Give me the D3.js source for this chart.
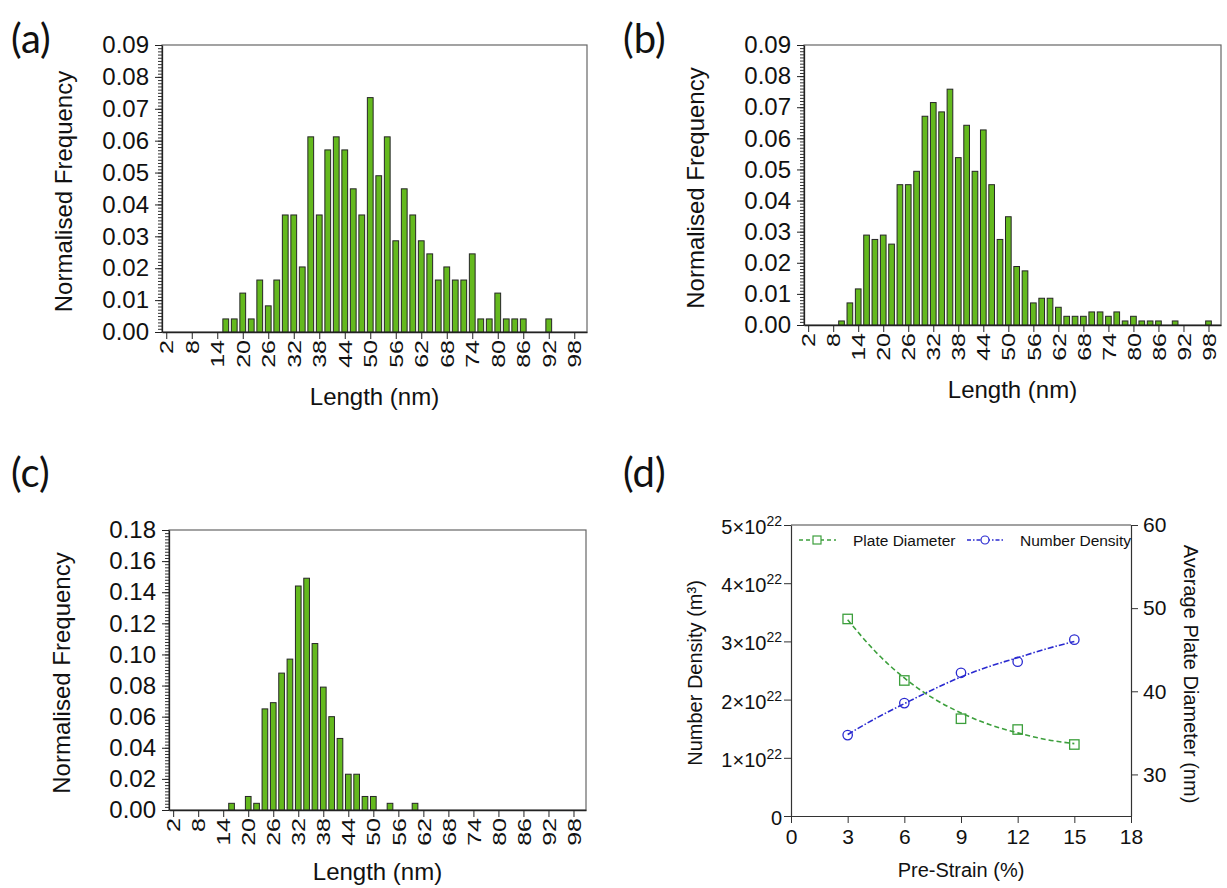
<!DOCTYPE html>
<html>
<head>
<meta charset="utf-8">
<script src="https://cdn.jsdelivr.net/npm/d3@7"></script>
<style>
  body { margin: 0; background: #fff; }
  text { font-family: "Liberation Sans", Arial, sans-serif; fill: #111; }
</style>
</head>
<body>
<script>
// histogram bins (nm) and normalised frequencies
const lenA = [16,18,20,22,24,26,28,30,32,34,36,38,40,42,44,46,48,50,52,54,56,58,60,62,64,66,68,70,72,74,76,78,80,82,84,86,88,90,92];
const freqA = [0.0041,0.0041,0.0122,0.0041,0.0163,0.0082,0.0163,0.0367,0.0367,0.0204,0.0612,0.0367,0.0571,0.0612,0.0571,0.0449,0.0367,0.0735,0.049,0.0612,0.0286,0.0449,0.0367,0.0286,0.0245,0.0163,0.0204,0.0163,0.0163,0.0245,0.0041,0.0041,0.0122,0.0041,0.0041,0.0041,0,0,0.0041];

const lenB = [10,12,14,16,18,20,22,24,26,28,30,32,34,36,38,40,42,44,46,48,50,52,54,56,58,60,62,64,66,68,70,72,74,76,78,80,82,84,86,88,90,92,94,96,98];
const freqB = [0.0013,0.0071,0.0116,0.0289,0.0275,0.0289,0.026,0.0451,0.0451,0.0494,0.0671,0.0715,0.0685,0.0758,0.0538,0.0642,0.0494,0.0627,0.0451,0.0275,0.0348,0.0188,0.0174,0.0071,0.0086,0.0086,0.0057,0.0028,0.0028,0.0028,0.0042,0.0042,0.0028,0.0042,0.0013,0.0028,0.0013,0.0013,0.0013,0,0.0013,0,0,0,0.0013];

const lenC = [16,18,20,22,24,26,28,30,32,34,36,38,40,42,44,46,48,50,52,54,56,58,60];
const freqC = [0.0043,0,0.0087,0.0043,0.065,0.069,0.088,0.097,0.144,0.149,0.107,0.079,0.060,0.046,0.023,0.023,0.0087,0.0087,0,0.0043,0,0,0.0043];

const lengthTicks = [2,8,14,20,26,32,38,44,50,56,62,68,74,80,86,92,98];

// panel (d)
const strain = [3,6,9,12,15];
const numberDensity = [1.39e22,1.94e22,2.46e22,2.65e22,3.03e22];
const plateDiameter = [48.7,41.3,36.7,35.4,33.6];
const fitStrain = [3,4.5,6,7.5,9,10.5,12,13.5,15];
const fitDensity = [1.40e22,1.68e22,1.93e22,2.17e22,2.39e22,2.57e22,2.72e22,2.87e22,3.00e22];
const fitDiameter = [48.6,44.7,41.6,39.2,37.4,36.0,35.0,34.2,33.7];
const strainTicks = [0,3,6,9,12,15,18];
const densityTicks = [0,1e22,2e22,3e22,4e22,5e22];
const diameterTicks = [30,40,50,60];

const W = 1227, H = 888;
const svg = d3.select("body").append("svg").attr("width", W).attr("height", H);

const barFill = "#64b91e";

function histogram(o) {
  const g = svg.append("g");
  const x = d3.scaleLinear().domain([1, 101]).range([o.left, o.right]);
  const y = d3.scaleLinear().domain([0, o.yMax]).range([o.bottom, o.top]);
  const bw = (x(2) - x(0)) * 0.68;

  g.append("rect")
    .attr("x", o.left).attr("y", o.top)
    .attr("width", o.right - o.left).attr("height", o.bottom - o.top)
    .attr("fill", "none").attr("stroke", "#666").attr("stroke-width", 1.2);

  g.selectAll("rect.bar")
    .data(o.len.map((d, i) => ({len: d, f: o.freq[i]})).filter(d => d.f > 0))
    .enter().append("rect")
    .attr("class", "bar")
    .attr("x", d => x(d.len) - bw / 2)
    .attr("y", d => y(d.f))
    .attr("width", bw)
    .attr("height", d => y(0) - y(d.f))
    .attr("fill", barFill)
    .attr("stroke", "#262626")
    .attr("stroke-width", 1);

  // minor y ticks
  g.append("g")
    .attr("transform", `translate(${o.left},0)`)
    .call(d3.axisLeft(y).tickValues(d3.range(0, o.yMax + 1e-9, o.yMax / 90)).tickSize(4).tickFormat(""))
    .call(a => a.select(".domain").remove())
    .selectAll("line").attr("stroke", "#333");

  const ya = g.append("g")
    .attr("transform", `translate(${o.left},0)`)
    .call(d3.axisLeft(y).tickValues(o.yTicks).tickSize(7).tickSizeOuter(0).tickPadding(6).tickFormat(d3.format(".2f")));
  ya.select(".domain").attr("stroke", "#222").attr("stroke-width", 1.3);
  ya.selectAll("line").attr("stroke", "#222");
  ya.selectAll("text").attr("font-size", 24).attr("font-family", "Liberation Sans, Arial, sans-serif").attr("fill", "#111");

  const xa = g.append("g")
    .attr("transform", `translate(0,${o.bottom})`)
    .call(d3.axisBottom(x).tickValues(lengthTicks).tickSize(7).tickSizeOuter(0));
  xa.select(".domain").attr("stroke", "#222").attr("stroke-width", 1.3);
  xa.selectAll("line").attr("stroke", "#222");
  xa.selectAll("text")
    .attr("font-size", 25).attr("font-family", "Liberation Sans, Arial, sans-serif").attr("fill", "#111")
    .attr("text-anchor", "end")
    .attr("transform", "rotate(-90) scale(1,0.74)")
    .attr("x", -8).attr("y", 0).attr("dy", "0.36em");

  g.append("text")
    .attr("transform", `translate(${o.yTitleX},${(o.top + o.bottom) / 2 + 3}) rotate(-90)`)
    .attr("text-anchor", "middle").attr("font-size", 24)
    .text("Normalised Frequency");

  g.append("text")
    .attr("x", (o.left + o.right) / 2).attr("y", o.xTitleY)
    .attr("text-anchor", "middle").attr("font-size", 24)
    .text("Length (nm)");
}

histogram({len: lenA, freq: freqA, left: 162, right: 587, top: 45, bottom: 332,
  yMax: 0.09, yTicks: d3.range(0, 0.0901, 0.01), yTitleX: 72, xTitleY: 405});
histogram({len: lenB, freq: freqB, left: 804, right: 1221, top: 45, bottom: 325,
  yMax: 0.09, yTicks: d3.range(0, 0.0901, 0.01), yTitleX: 704, xTitleY: 398});
histogram({len: lenC, freq: freqC, left: 169, right: 586, top: 530, bottom: 810,
  yMax: 0.18, yTicks: d3.range(0, 0.1801, 0.02), yTitleX: 70, xTitleY: 880});

// panel letters
const letters = [["(a)", 11, 53], ["(b)", 623, 53], ["(c)", 11, 487], ["(d)", 623, 487]];
svg.selectAll("text.letter").data(letters).enter().append("text")
  .attr("class", "letter")
  .attr("x", d => d[1]).attr("y", d => d[2])
  .attr("font-size", 40)
  .style("font-family", "Lato, 'Open Sans', sans-serif")
  .text(d => d[0]);

// ---- panel (d)
const green = "#3c9f3c", blue = "#2a2ad0";
const dL = 791, dR = 1131, dT = 525, dB = 816;
const xs = d3.scaleLinear().domain([0, 18]).range([dL, dR]);
const yl = d3.scaleLinear().domain([0, 5e22]).range([dB, dT]);
const yr = d3.scaleLinear().domain([25, 60]).range([dB, dT]);
const gd = svg.append("g");

gd.append("line").attr("x1", dL).attr("x2", dR).attr("y1", dT).attr("y2", dT)
  .attr("stroke", "#444").attr("stroke-width", 1.2);

const xax = gd.append("g").attr("transform", `translate(0,${dB})`)
  .call(d3.axisBottom(xs).tickValues(strainTicks).tickSize(7).tickSizeOuter(0).tickPadding(6));
const ylax = gd.append("g").attr("transform", `translate(${dL},0)`)
  .call(d3.axisLeft(yl).tickValues(densityTicks).tickSize(7).tickSizeOuter(0).tickFormat(""));
const yrax = gd.append("g").attr("transform", `translate(${dR},0)`)
  .call(d3.axisRight(yr).tickValues(diameterTicks).tickSize(7).tickSizeOuter(0).tickPadding(5));
[xax, ylax, yrax].forEach(a => {
  a.select(".domain").attr("stroke", "#333").attr("stroke-width", 1.2);
  a.selectAll("line").attr("stroke", "#333");
  a.selectAll("text").attr("font-size", 21).attr("font-family", "Liberation Sans, Arial, sans-serif").attr("fill", "#111");
});

// left labels with superscript exponent
ylax.selectAll(".tick").each(function(d) {
  const t = d3.select(this).append("text")
    .attr("x", -9).attr("dy", "0.42em").attr("text-anchor", "end")
    .attr("font-size", 20).attr("fill", "#111");
  if (d === 0) { t.text("0"); return; }
  t.append("tspan").text((d / 1e22) + "×10");
  t.append("tspan").attr("dy", -8).attr("font-size", 14).text("22");
});

gd.append("text")
  .attr("transform", `translate(${xs(9)},877)`)
  .attr("text-anchor", "middle").attr("font-size", 20)
  .text("Pre-Strain (%)");
gd.append("text")
  .attr("transform", `translate(702,673) rotate(-90)`)
  .attr("text-anchor", "middle").attr("font-size", 20)
  .text("Number Density (m³)");
gd.append("text")
  .attr("transform", `translate(1184,674) rotate(90)`)
  .attr("text-anchor", "middle").attr("font-size", 20)
  .text("Average Plate Diameter (nm)");

// fitted curves
gd.append("path")
  .datum(fitStrain.map((s, i) => [s, fitDiameter[i]]))
  .attr("d", d3.line().x(d => xs(d[0])).y(d => yr(d[1])).curve(d3.curveMonotoneX))
  .attr("fill", "none").attr("stroke", green).attr("stroke-width", 1.6)
  .attr("stroke-dasharray", "5,3");
gd.append("path")
  .datum(fitStrain.map((s, i) => [s, fitDensity[i]]))
  .attr("d", d3.line().x(d => xs(d[0])).y(d => yl(d[1])).curve(d3.curveMonotoneX))
  .attr("fill", "none").attr("stroke", blue).attr("stroke-width", 1.6)
  .attr("stroke-dasharray", "6,2,1.5,2");

// markers
gd.selectAll("rect.pd").data(strain).enter().append("rect")
  .attr("class", "pd")
  .attr("x", (d, i) => xs(d) - 4.7).attr("y", (d, i) => yr(plateDiameter[i]) - 4.7)
  .attr("width", 9.4).attr("height", 9.4)
  .attr("fill", "none").attr("stroke", green).attr("stroke-width", 1.3);
gd.selectAll("circle.nd").data(strain).enter().append("circle")
  .attr("class", "nd")
  .attr("cx", d => xs(d)).attr("cy", (d, i) => yl(numberDensity[i]))
  .attr("r", 4.7)
  .attr("fill", "none").attr("stroke", blue).attr("stroke-width", 1.3);

// legend
const lg = gd.append("g");
lg.append("line").attr("x1", 799).attr("x2", 836).attr("y1", 540).attr("y2", 540)
  .attr("stroke", green).attr("stroke-width", 1.5).attr("stroke-dasharray", "4,3");
lg.append("rect").attr("x", 813).attr("y", 536).attr("width", 8).attr("height", 8)
  .attr("fill", "#fff").attr("stroke", green).attr("stroke-width", 1.2);
lg.append("text").attr("x", 853).attr("y", 545.5).attr("font-size", 15.5).text("Plate Diameter");
lg.append("line").attr("x1", 967).attr("x2", 1004).attr("y1", 540).attr("y2", 540)
  .attr("stroke", blue).attr("stroke-width", 1.5).attr("stroke-dasharray", "4,2,1.5,2");
lg.append("circle").attr("cx", 985).attr("cy", 540).attr("r", 4)
  .attr("fill", "#fff").attr("stroke", blue).attr("stroke-width", 1.2);
lg.append("text").attr("x", 1020).attr("y", 545.5).attr("font-size", 15.5).text("Number Density");
</script>
</body>
</html>
